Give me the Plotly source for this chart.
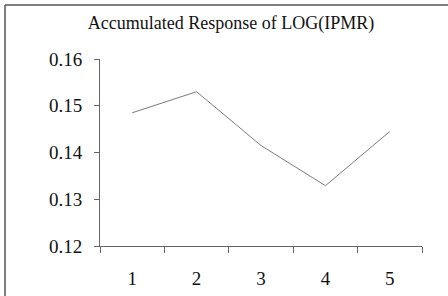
import plotly.graph_objects as go

periods = ["1", "2", "3", "4", "5"]
response = [0.1485, 0.1530, 0.1415, 0.1329, 0.1445]
y_ticks = [0.12, 0.13, 0.14, 0.15, 0.16]
y_labels = ["0.12", "0.13", "0.14", "0.15", "0.16"]
title_text = "Accumulated Response of LOG(IPMR)"

W, H = 448, 296
ml, mr, mt, mb = 100, 26, 59, 50
pw = W - ml - mr
ph = H - mt - mb

fig = go.Figure()
fig.add_trace(go.Scatter(
    x=periods, y=response, mode="lines",
    line=dict(color="#7a7a7a", width=1),
    hoverinfo="skip", showlegend=False,
))

font = dict(family="Liberation Serif, Times New Roman, serif", color="#111111")

fig.update_layout(
    width=W, height=H,
    margin=dict(l=ml, r=mr, t=mt, b=mb, pad=0, autoexpand=False),
    paper_bgcolor="white", plot_bgcolor="white",
    title=dict(text=title_text, x=231 / W, xanchor="center",
               y=1 - 23 / H, yanchor="middle", yref="container",
               font=dict(size=18, **font), automargin=False),
    xaxis=dict(type="category", range=[-0.5, 4.5], tickson="boundaries",
               ticks="outside", ticklen=6, tickcolor="#666666", tickwidth=1,
               showline=True, linecolor="#666666", linewidth=1,
               showgrid=False, zeroline=False, automargin=False,
               tickfont=dict(size=19, **font), ticklabelstandoff=15),
    yaxis=dict(range=[0.12, 0.16], tickvals=y_ticks, ticktext=y_labels,
               ticks="outside", ticklen=5, tickcolor="#666666", tickwidth=1,
               showline=True, linecolor="#666666", linewidth=1,
               showgrid=False, zeroline=False, automargin=False,
               tickfont=dict(size=19, **font), ticklabelstandoff=8),
    shapes=[dict(type="line", xref="paper", yref="paper",
                 x0=(5 - ml) / pw, x1=1.5, y0=1 + (mt - 5) / ph, y1=1 + (mt - 5) / ph,
                 line=dict(color="#555555", width=1.5)),
            dict(type="line", xref="paper", yref="paper",
                 x0=(5 - ml) / pw, x1=(5 - ml) / pw, y0=1 + (mt - 5) / ph, y1=-1,
                 line=dict(color="#555555", width=1.5))],
)

fig.write_html("out.html", config={"displayModeBar": False},
               post_script="document.body.style.margin='0';")
